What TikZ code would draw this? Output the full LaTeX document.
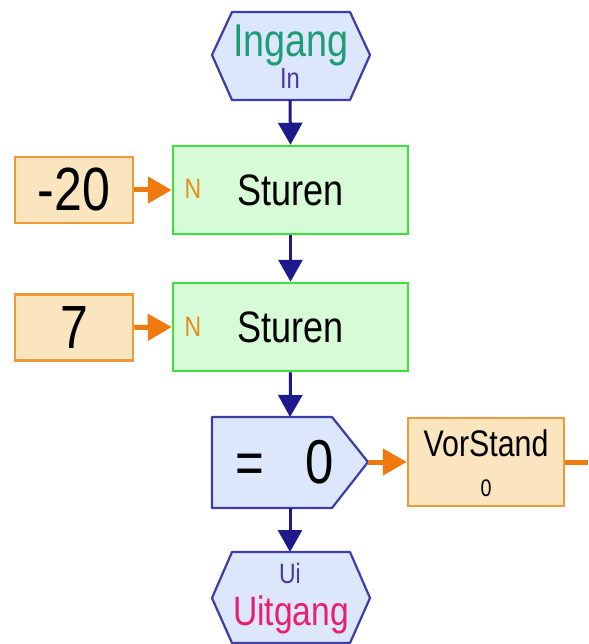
\documentclass[tikz,border=0pt]{standalone}
\usepackage{fontspec}
\setmainfont{Liberation Sans}[FakeStretch=0.82]
\usetikzlibrary{arrows.meta}
\definecolor{navy}{HTML}{1E1A8C}
\definecolor{hexborder}{HTML}{3F3CA8}
\definecolor{hexfill}{HTML}{DCE7FB}
\definecolor{grnborder}{HTML}{3EE03E}
\definecolor{grnfill}{HTML}{D6FBD6}
\definecolor{orgborder}{HTML}{EE9A3A}
\definecolor{orgfill}{HTML}{FBE5BF}
\definecolor{orgarrow}{HTML}{EE7A10}
\definecolor{tealtxt}{HTML}{1E9C78}
\definecolor{pinktxt}{HTML}{E8206C}
\definecolor{purptxt}{HTML}{4A38A0}
\definecolor{nlabel}{HTML}{E88A20}
\newcommand{\fsz}[1]{\fontsize{#1}{#1}\selectfont}
\tikzset{
  hexshape/.style={draw=hexborder, fill=hexfill, line width=2.2pt, line join=round},
  sturbox/.style={draw=grnborder, fill=grnfill, line width=2.5pt, minimum width=235pt, minimum height=88pt, inner sep=0pt, font=\fsz{44}},
  constbox/.style={draw=orgborder, fill=orgfill, line width=2.5pt, minimum width=118pt, minimum height=66pt, inner sep=0pt, font=\fsz{61}},
  navyarrow/.style={draw=navy, line width=3pt, -{Triangle[length=22pt, width=24pt]}},
  orgarr/.style={draw=orgarrow, line width=5pt, -{Triangle[length=24pt, width=26pt]}},
  orgline/.style={draw=orgarrow, line width=5pt},
  txt/.style={inner sep=0pt, anchor=base},
  nlab/.style={inner sep=0pt, anchor=base, text=nlabel, font=\fsz{28}}
}
\begin{document}
\begin{tikzpicture}[x=1pt,y=-1pt]
\useasboundingbox (0,0) rectangle (588,644);
% Ingang hexagon
\draw[hexshape] (212,55) -- (232,12) -- (350,12) -- (370,55) -- (350,100) -- (232,100) -- cycle;
\coordinate (inB) at (290,100);
\node[txt, text=tealtxt, font=\fsz{46}] (ingang) at (291,57) {Ingang};
\node[txt, text=purptxt, font=\fsz{29}] (inlbl) at (290,89) {In};
% Sturen blocks
\node[sturbox] (s1) at (290.5,190) {Sturen};
\node[sturbox] (s2) at (290.5,327) {Sturen};
\node[nlab] (n1) at (193,199) {N};
\node[nlab] (n2) at (193,336) {N};
% constants
\node[constbox] (c1) at (74,190) {-20};
\node[constbox] (c2) at (74,327.5) {7};
% compare block
\draw[hexshape] (212,417) -- (332,417) -- (368,462) -- (332,508) -- (212,508) -- cycle;
\coordinate (cmpT) at (290,417);
\coordinate (cmpR) at (368,462);
\coordinate (cmpB) at (290,508);
\node[txt, font=\fsz{60}] (eq) at (250,483) {=};
\node[txt, font=\fsz{62}] (zero) at (320,483) {0};
% VorStand
\node[draw=orgborder, fill=orgfill, line width=2.5pt, minimum width=156pt, minimum height=88pt, inner sep=0pt] (vs) at (486,462) {};
\node[txt, font=\fsz{37}] (vst) at (486,456) {VorStand};
\node[txt, font=\fsz{24}] (vsz) at (486,496) {0};
\coordinate (edge) at (588,462);
% Uitgang hexagon
\draw[hexshape] (212,598) -- (232,552) -- (350,552) -- (370,598) -- (350,643) -- (232,643) -- cycle;
\coordinate (outT) at (290,552);
\node[txt, text=purptxt, font=\fsz{28}] (uilbl) at (290,583) {Ui};
\node[txt, text=pinktxt, font=\fsz{41}] (uitgang) at (291,625) {Uitgang};
% connectors
\draw[navyarrow] (inB) -- (s1.north);
\draw[navyarrow] (s1.south) -- (s2.north);
\draw[navyarrow] (s2.south) -- (cmpT);
\draw[navyarrow] (cmpB) -- (outT);
\draw[orgarr] (c1.east) -- (s1.west);
\draw[orgarr] (c2.east) -- (s2.west);
\draw[orgarr] (cmpR) -- (vs.west);
\draw[orgline] (vs.east) -- (edge);
\end{tikzpicture}
\end{document}
